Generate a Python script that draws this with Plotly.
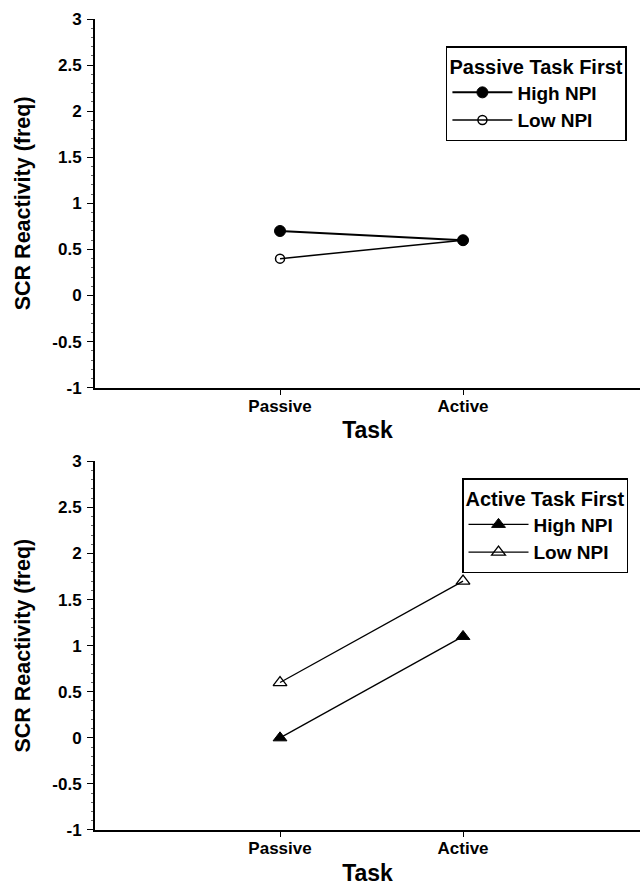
import plotly.graph_objects as go
from plotly.subplots import make_subplots

tasks = ["Passive", "Active"]
task_pos = [1, 2]

# Top panel: Passive Task First
passive_first_high = [0.7, 0.6]
passive_first_low = [0.4, 0.6]

# Bottom panel: Active Task First
active_first_high = [0.0, 1.1]
active_first_low = [0.6, 1.7]

y_ticks = [-1, -0.5, 0, 0.5, 1, 1.5, 2, 2.5, 3]
y_tick_text = ["-1", "-0.5", "0", "0.5", "1", "1.5", "2", "2.5", "3"]

FONT = "Liberation Sans, Arial, sans-serif"

fig = make_subplots(rows=2, cols=1, vertical_spacing=0.0908)

fig.add_trace(go.Scatter(
    x=task_pos, y=passive_first_high, mode="lines+markers", name="High NPI",
    line=dict(color="black", width=2),
    marker=dict(symbol="circle", size=11, color="black", line=dict(color="black", width=1)),
    legend="legend"), row=1, col=1)
fig.add_trace(go.Scatter(
    x=task_pos, y=passive_first_low, mode="lines+markers", name="Low NPI",
    line=dict(color="black", width=1.5),
    marker=dict(symbol="circle-open", size=9, color="black", line=dict(color="black", width=1.5)),
    legend="legend"), row=1, col=1)

fig.add_trace(go.Scatter(
    x=task_pos, y=active_first_high, mode="lines+markers", name="High NPI",
    line=dict(color="black", width=1.3),
    marker=dict(symbol="triangle-up", size=12, color="black", line=dict(color="black", width=1)),
    legend="legend2"), row=2, col=1)
fig.add_trace(go.Scatter(
    x=task_pos, y=active_first_low, mode="lines+markers", name="Low NPI",
    line=dict(color="black", width=1.3),
    marker=dict(symbol="triangle-up-open", size=12, color="black", line=dict(color="black", width=1.3)),
    legend="legend2"), row=2, col=1)

for r in (1, 2):
    fig.update_xaxes(
        range=[-0.011, 2.967], tickvals=task_pos, ticktext=tasks,
        showline=True, linecolor="black", linewidth=2,
        ticks="outside", ticklen=5, tickcolor="black", tickwidth=1,
        ticklabelstandoff=-3,
        tickfont=dict(family=FONT, size=17, color="black", weight="bold"),
        title=dict(text="Task", font=dict(family=FONT, size=23, color="black", weight="bold"), standoff=7),
        showgrid=False, zeroline=False, row=r, col=1)
    fig.update_yaxes(
        range=[-1, 3], tickvals=y_ticks, ticktext=y_tick_text,
        showline=True, linecolor="black", linewidth=2,
        ticks="outside", ticklen=6, tickcolor="black", tickwidth=1,
        ticklabelstandoff=2,
        minor=dict(dtick=0.1, ticks="outside", ticklen=2, tickcolor="#666", tickwidth=1),
        tickfont=dict(family=FONT, size=17, color="black", weight="bold"),
        title=dict(text="SCR Reactivity (freq)", font=dict(family=FONT, size=21.5, color="black", weight="bold"), standoff=16),
        showgrid=False, zeroline=False, row=r, col=1)

legend_common = dict(
    bgcolor="white", bordercolor="black", borderwidth=1.5,
    font=dict(family=FONT, size=19, color="black", weight="bold"),
    xanchor="right", yanchor="top", tracegroupgap=0, itemwidth=60,
)
fig.update_layout(
    width=642, height=886,
    margin=dict(l=95, r=2, t=19, b=56),
    paper_bgcolor="white", plot_bgcolor="white",
    showlegend=True,
    legend=dict(x=0.976, y=0.9667,
                title=dict(text="Passive Task First", font=dict(family=FONT, size=20, color="black", weight="bold")),
                **legend_common),
    legend2=dict(x=0.978, y=0.434,
                 title=dict(text="Active Task First", font=dict(family=FONT, size=20, color="black", weight="bold")),
                 **legend_common),
)

fig.write_html("out.html")
